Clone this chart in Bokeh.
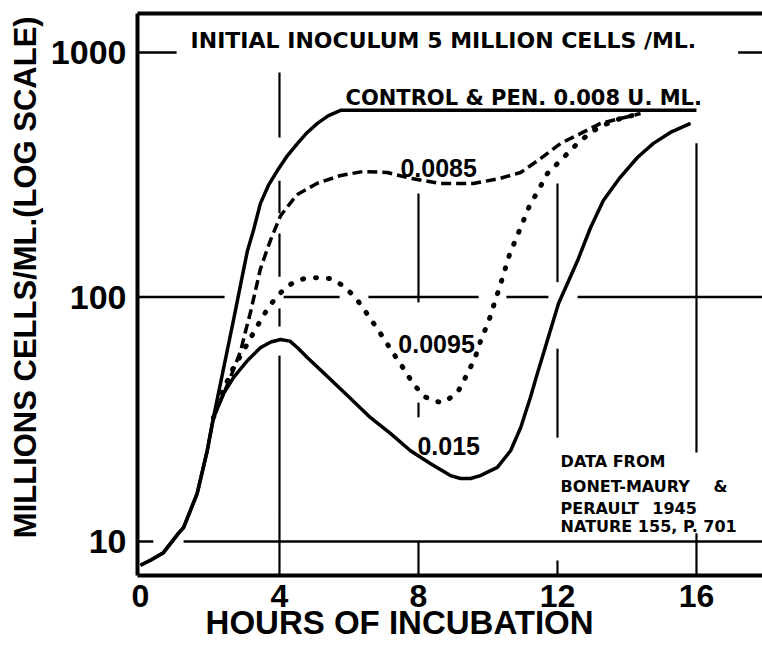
from bokeh.plotting import figure
from bokeh.models import LinearAxis, FixedTicker, PrintfTickFormatter, Range1d
from bokeh.core.properties import value
from bokeh.embed import file_html
from bokeh.resources import INLINE

# ---- data ----
hours_0015 = [0, 0.3, 0.66, 1.09, 1.24, 1.63, 1.92, 2.1, 2.39, 2.68, 3.08, 3.45, 3.75, 4.03, 4.3,
              4.52, 4.8, 5.38, 6.0, 6.62, 7.19, 7.77, 8.35, 8.92, 9.21, 9.5, 9.78, 10.27, 10.65,
              10.94, 11.22, 11.42, 11.6, 12.03, 12.58, 12.95, 13.32, 13.8, 14.3, 14.76, 15.25, 15.83]
cells_0015 = [8.0, 8.4, 9.0, 10.8, 11.4, 15.7, 23.5, 32.1, 40.3, 46.9, 55, 62, 65.5, 67, 66,
              62, 56.6, 47.3, 39, 32.1, 27.7, 23.5, 20.8, 18.6, 18.1, 18.1, 18.6, 20.1, 23.5,
              29.2, 38.8, 48.6, 59, 94, 141, 192, 248, 308, 372, 425, 471, 513]

hours_control = [0, 0.3, 0.66, 1.09, 1.24, 1.63, 1.92, 2.1, 2.39, 2.68, 2.96, 3.08, 3.25, 3.45,
                 3.68, 3.94, 4.23, 4.52, 4.8, 5.09, 5.41, 5.76, 16.0]
cells_control = [8.0, 8.4, 9.0, 10.8, 11.4, 15.7, 23.5, 32.1, 51, 80.9, 128, 155, 187, 241,
                 286, 329, 379, 425, 471, 513, 552, 580, 580]

hours_00085 = [2.1, 2.59, 2.88, 3.05, 3.17, 3.3, 3.45, 3.6, 3.75, 4.03, 4.5, 5.09, 5.76, 6.4,
               7.1, 7.77, 8.63, 9.58, 10.36, 10.94, 11.51, 12.09, 12.66, 13.24, 13.81, 14.39]
cells_00085 = [32.1, 46.9, 60, 75, 87, 105, 130, 150, 172, 215, 262, 292, 314, 326,
               323, 306, 291, 291, 306, 323, 368, 425, 466, 513, 537, 563]

hours_00095 = [2.1, 2.39, 2.68, 2.94, 3.17, 3.45, 3.68, 3.94, 4.23, 4.5, 4.75, 5.09, 5.47, 5.84,
               6.19, 6.43, 6.71, 7.0, 7.28, 7.57, 7.86, 8.17, 8.45, 8.72, 9.12, 9.41, 9.64, 9.81,
               10.01, 10.16, 10.33, 10.47, 10.62, 10.82, 11.0, 11.2, 11.45, 11.71, 12.14, 12.52,
               12.95, 13.3, 13.81, 14.39]
cells_00095 = [32.1, 42, 51.6, 59.4, 68, 80, 90.6, 101, 111, 116, 119.5, 120, 119, 111,
               99.5, 89, 78, 67.7, 58.7, 51, 43.9, 39.2, 37.5, 37, 40.6, 48.6, 57, 67.7,
               78.7, 92, 109, 127, 149, 175, 202, 237, 273, 320, 368, 417,
               471, 503, 537, 563]

x_ticks = [0, 4, 8, 12, 16]
y_ticks = [10, 100, 1000]

# hand-drawn partial grid lines
h_grid_y = [1000, 1000, 100, 100, 100, 100, 100, 10, 10]
h_grid_x0 = [-0.09, 17.2, -0.09, 4.12, 6.56, 10.53, 12.58, -0.09, 1.24]
h_grid_x1 = [1.04, 17.9, 2.42, 5.73, 9.73, 11.74, 17.9, 0.37, 17.9]
v_grid_x = [4, 4, 4, 4, 4, 8, 8, 8, 12, 12, 12, 16, 16]
v_grid_y0 = [828, 299, 182, 89.8, 57.6, 265, 37, 10, 291, 61.5, 8.36, 425, 10.8]
v_grid_y1 = [449, 220, 121, 75.7, 7.26, 95, 32.2, 7.26, 115, 26.6, 7.26, 23.1, 7.26]

NBSP = "\u00a0"

p = figure(width=762, height=647, x_range=Range1d(-0.086, 17.9), y_range=Range1d(7.26, 1444),
           y_axis_type="log", output_backend="svg", toolbar_location=None,
           min_border_left=137, min_border_right=0, min_border_top=13, min_border_bottom=72)
p.xgrid.visible = False
p.ygrid.visible = False
p.outline_line_color = None
p.background_fill_color = "white"
p.border_fill_color = "white"

ax = p.xaxis[0]
ax.ticker = FixedTicker(ticks=x_ticks)
ax.axis_line_width = 4
ax.axis_line_color = "black"
ax.major_tick_line_color = None
ax.minor_tick_line_color = None
ax.major_label_standoff = 3
ax.major_label_text_font = "Liberation Sans"
ax.major_label_text_font_style = "bold"
ax.major_label_text_font_size = "32px"
ax.major_label_text_color = "black"
# trailing no-break spaces shift the centred title left, as in the original
ax.axis_label = "HOURS OF INCUBATION" + NBSP * 11
ax.axis_label_standoff = -6
ax.axis_label_text_font = "Liberation Sans"
ax.axis_label_text_font_style = "bold"
ax.axis_label_text_font_size = "33px"
ax.axis_label_text_color = "black"

ay = p.yaxis[0]
ay.ticker = FixedTicker(ticks=y_ticks)
ay.formatter = PrintfTickFormatter(format="%d")
ay.axis_line_width = 4
ay.axis_line_color = "black"
ay.major_tick_line_color = None
ay.minor_tick_line_color = None
ay.major_label_standoff = 5
ay.major_label_text_font = "Liberation Sans"
ay.major_label_text_font_style = "bold"
ay.major_label_text_font_size = "34px"
ay.major_label_text_color = "black"
ay.axis_label = NBSP * 4 + "MILLIONS CELLS/ML.(LOG SCALE)"
ay.axis_label_standoff = 5
ay.axis_label_text_font = "Liberation Sans"
ay.axis_label_text_font_style = "bold"
ay.axis_label_text_font_size = "31px"
ay.axis_label_text_color = "black"

top = LinearAxis(ticker=FixedTicker(ticks=[]), axis_line_width=4, axis_line_color="black",
                 major_tick_line_color=None, minor_tick_line_color=None,
                 major_label_text_font_size="0px")
p.add_layout(top, "above")

# grid
p.segment(x0=h_grid_x0, y0=h_grid_y, x1=h_grid_x1, y1=h_grid_y, line_color="black", line_width=2.5)
p.segment(x0=v_grid_x, y0=v_grid_y0, x1=v_grid_x, y1=v_grid_y1, line_color="black", line_width=2.2)

# curves
p.line(hours_00095, cells_00095, line_color="black", line_width=5, line_dash="1 12", line_cap="round")
p.line(hours_00085, cells_00085, line_color="black", line_width=3.5, line_dash="10 5")
p.line(hours_control, cells_control, line_color="black", line_width=3.5, line_join="round")
p.line(hours_0015, cells_0015, line_color="black", line_width=3.5, line_join="round")

# annotations inside the frame
p.text(x=[1.44], y=[1120], text=["INITIAL INOCULUM 5 MILLION CELLS /ML."],
       text_font=value("DejaVu Sans"), text_font_style="bold", text_font_size="22px",
       text_baseline="middle", text_align="left", text_color="black")
p.text(x=[5.9], y=[652], text=["CONTROL & PEN. 0.008 U. ML."],
       text_font=value("DejaVu Sans"), text_font_style="bold", text_font_size="21px",
       text_baseline="middle", text_align="left", text_color="black")
p.text(x=[7.48, 7.42, 7.97], y=[337, 64, 24.5], text=["0.0085", "0.0095", "0.015"],
       text_font=value("Liberation Sans"), text_font_style="bold", text_font_size="25px",
       text_baseline="middle", text_align="left", text_color="black")
p.text(x=[12.09, 12.09, 16.49, 12.09, 14.73, 12.09], y=[21.2, 16.8, 16.8, 13.7, 13.7, 11.5],
       text=["DATA FROM", "BONET-MAURY", "&", "PERAULT", "1945", "NATURE 155, P. 701"],
       text_font=value("DejaVu Sans"), text_font_style="bold", text_font_size="16px",
       text_baseline="middle", text_align="left", text_color="black")

open("out.html", "w").write(file_html(p, INLINE))
